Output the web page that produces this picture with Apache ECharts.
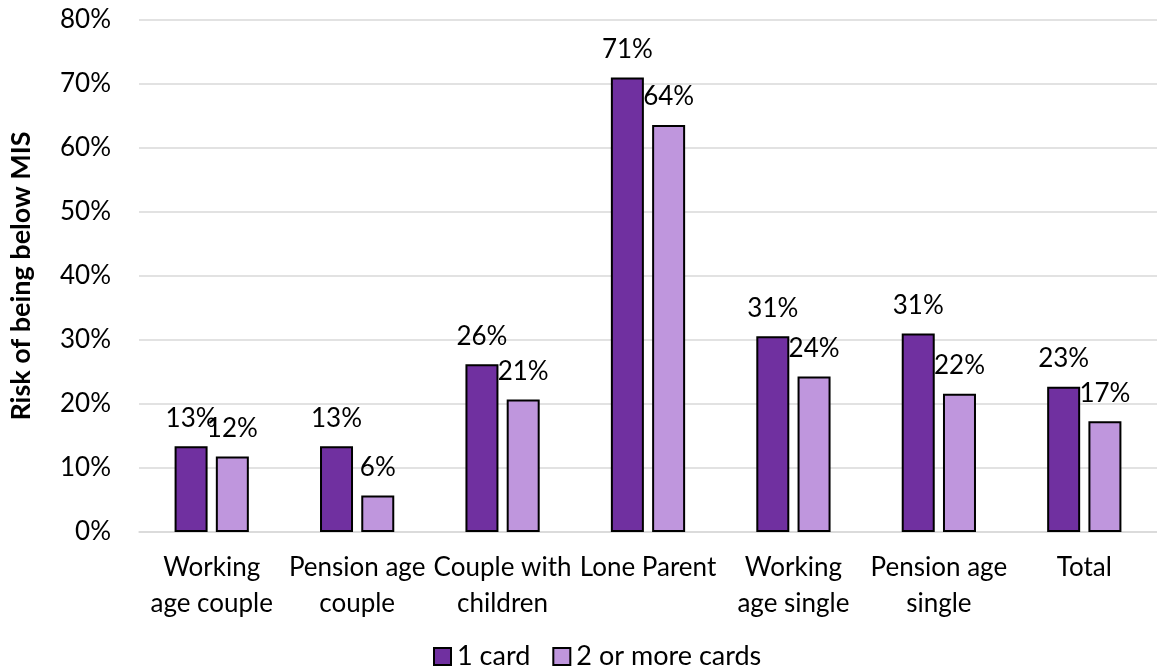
<!DOCTYPE html>
<html>
<head>
<meta charset="utf-8">
<script src="https://cdn.jsdelivr.net/npm/echarts@6/dist/echarts.min.js"></script>
<style>
  html, body { margin: 0; padding: 0; background: #fff; }
  #chart { width: 1157px; height: 670px; }
</style>
</head>
<body>
<div id="chart"></div>
<script>
// Household types (line breaks as shown on the axis)
const categories = [
  'Working\nage couple',
  'Pension age\ncouple',
  'Couple with\nchildren',
  'Lone Parent',
  'Working\nage single',
  'Pension age\nsingle',
  'Total'
];

// Share of households below the Minimum Income Standard, in percent
const oneCard = [13.4, 13.4, 26.2, 71.0, 30.6, 31.0, 22.7];
const twoOrMoreCards = [11.8, 5.7, 20.7, 63.6, 24.3, 21.6, 17.3];

const seriesNames = ['1 card', '2 or more cards'];
const yTicks = { min: 0, max: 80, interval: 10 };

const FONT = 'Lato';
const chart = echarts.init(document.getElementById('chart'), null, { renderer: 'canvas' });

const labelStyle = {
  show: true,
  position: 'top',
  distance: 15,
  fontFamily: FONT,
  fontSize: 26,
  color: '#000',
  formatter: p => Math.round(p.value) + '%'
};

chart.setOption({
  animation: false,
  textStyle: { fontFamily: FONT },
  grid: { left: 139, top: 20, width: 1022, height: 512, containLabel: false },
  legend: {
    data: seriesNames,
    bottom: -5,
    left: 428,
    itemWidth: 17,
    itemHeight: 17,
    itemGap: 22,
    textStyle: { fontFamily: FONT, fontSize: 27, color: '#000', padding: [0, 0, 0, 1] },
    icon: 'rect'
  },
  xAxis: {
    type: 'category',
    data: categories,
    axisLine: { lineStyle: { color: '#D9D9D9', width: 1.5 } },
    axisTick: { show: false },
    axisLabel: {
      interval: 0,
      margin: 18,
      fontFamily: FONT,
      fontSize: 26,
      lineHeight: 36,
      color: '#000'
    }
  },
  yAxis: {
    type: 'value',
    min: yTicks.min,
    max: yTicks.max,
    interval: yTicks.interval,
    name: 'Risk of being below MIS',
    nameLocation: 'middle',
    nameGap: 104,
    nameTextStyle: { fontFamily: FONT, fontSize: 27, fontWeight: 'bold', color: '#000' },
    axisLine: { show: false },
    axisTick: { show: false },
    axisLabel: {
      margin: 28,
      fontFamily: FONT,
      fontSize: 26,
      color: '#000',
      formatter: v => v + '%'
    },
    splitLine: { lineStyle: { color: '#D9D9D9', width: 1.5 } }
  },
  series: [
    {
      name: seriesNames[0],
      type: 'bar',
      data: oneCard,
      barWidth: 33,
      barGap: '25%',
      itemStyle: { color: '#7030A0', borderColor: '#000', borderWidth: 2 },
      label: labelStyle
    },
    {
      name: seriesNames[1],
      type: 'bar',
      data: twoOrMoreCards,
      barWidth: 33,
      barGap: '25%',
      itemStyle: { color: '#BF96DD', borderColor: '#000', borderWidth: 2 },
      label: labelStyle
    }
  ]
});
</script>
</body>
</html>
